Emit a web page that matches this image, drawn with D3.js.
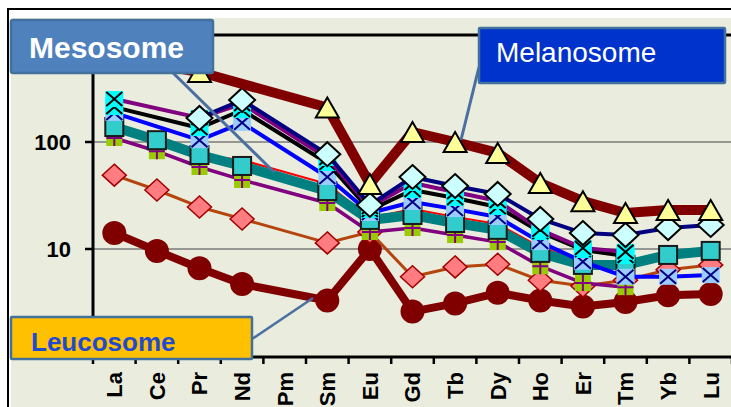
<!DOCTYPE html>
<html>
<head>
<meta charset="utf-8">
<style>
  body { margin: 0; background: #fff; }
  text { font-family: "Liberation Sans", Arial, sans-serif; }
</style>
</head>
<body>
<script src="https://d3js.org/d3.v7.min.js"></script>
<script>
var width = 731, height = 407;

// REE categories (Pm left empty)
var elements = ["La", "Ce", "Pr", "Nd", "Pm", "Sm", "Eu", "Gd", "Tb", "Dy", "Ho", "Er", "Tm", "Yb", "Lu"];
var yTicks = [1, 10, 100, 1000];
var yLabels = [10, 100]; // 1 and 1000 sit under the callout boxes
var gridValues = [10, 100];

// melanosome (triangles)
var melanosome = [620, null, 451, null, null, 210, 40.5, 124, 100, 79, 41.4, 28, 21.7, 23.1, 23.1];
// leucosome samples
var leucoCircle = [14.1, 9.6, 6.6, 4.7, null, 3.3, 10, 2.6, 3.1, 3.9, 3.3, 2.9, 3.2, 3.7, 3.8];
var leucoDiamond = [49, 35.6, 24.7, 19.1, null, 11.4, 14.4, 5.5, 6.8, 7.2, 5.1, 4.5, 5.1, 6.4, 7.1];
// mesosome samples
var mesoPlus = [109, 82, 58.4, 44.2, null, 26.9, 14.4, 15.7, 13.5, 11.6, 6.9, 4.8, 4.4, null, null];
var mesoRed = [138, 104, 75.6, 67.9, null, 40.5, 19.5, 23.6, 19.9, 17.1, 10.4, 7.7, 7.1, 8.8, 9.6];
var mesoTeal = [138, 104, 75.6, 59.7, null, 34.8, 18.7, 20.8, 17.5, 15.1, 9.2, 7.1, 7.1, 8.8, 9.6];
var mesoBlue = [187, null, 104, 151, null, 47.1, 21.7, 27.5, 23.6, 19.9, 11.6, 7.6, 5.5, 5.5, 5.7];
var mesoBlack = [212, null, 135, 199, null, 63.6, 23.1, 35.6, 30, 24.7, 14.4, 9.8, 8.6, null, null];
var mesoPurple = [252, null, 168, 227, null, 70.9, 24.7, 41.4, 34.1, 28.1, 15.1, 10.2, 9.4, null, null];
var mesoDiamond = [null, null, 168, 247, null, 77, 25.8, 47.1, 38.8, 32.7, 19.1, 14.1, 13.5, 15.7, 16.8];

var series = [
    { values: leucoCircle, color: '#800000', w: 8, marker: 'circle' },
    { values: leucoDiamond, color: '#b5450e', w: 3, marker: 'salmon' },
    { values: mesoPlus, color: '#800080', w: 3.5, marker: 'plus' },
    { values: mesoRed, color: '#ff0000', w: 2, marker: null },
    { values: mesoTeal, color: '#008080', w: 10, marker: 'square' },
    { values: mesoBlue, color: '#0000ff', w: 4, marker: 'xblue' },
    { values: mesoBlack, color: '#000000', w: 4, marker: 'xcyan' },
    { values: mesoPurple, color: '#800080', w: 4, marker: 'xcyan' },
    { values: mesoDiamond, color: '#000080', w: 4, marker: 'diamond' },
    { values: melanosome, color: '#800000', w: 10, marker: 'triangle' }
];

var svg = d3.select('body').append('svg').attr('width', width).attr('height', height);

// frame + plot background
svg.append('rect').attr('x', 8).attr('y', 9).attr('width', 740).attr('height', 410)
    .attr('fill', '#fff').attr('stroke', '#000').attr('stroke-width', 2);
svg.append('rect').attr('x', 11).attr('y', 18).attr('width', 730).attr('height', 400)
    .attr('fill', '#eaecde');

var x = d3.scaleBand().domain(elements).range([93, 732]);
var y = d3.scaleLog().domain([1, 1000]).range([356, 35]);
function cx(i) { return x(elements[i]) + x.bandwidth() / 2; }

// gridlines
svg.selectAll('.grid').data(gridValues).join('line').attr('class', 'grid')
    .attr('x1', 93).attr('x2', 731)
    .attr('y1', function (d) { return y(d); }).attr('y2', function (d) { return y(d); })
    .attr('stroke', '#7a7a7a').attr('stroke-width', 1.5);
svg.append('line').attr('x1', 93).attr('x2', 731).attr('y1', y(1000)).attr('y2', y(1000))
    .attr('stroke', '#000').attr('stroke-width', 3);

// y axis
svg.append('line').attr('x1', 93).attr('x2', 93).attr('y1', y(1000) - 1.5).attr('y2', 358)
    .attr('stroke', '#000').attr('stroke-width', 3);
svg.selectAll('.ytick').data(yTicks).join('line').attr('class', 'ytick')
    .attr('x1', 85).attr('x2', 93)
    .attr('y1', function (d) { return y(d); }).attr('y2', function (d) { return y(d); })
    .attr('stroke', '#000').attr('stroke-width', 2.5);
svg.selectAll('.ylab').data(yLabels).join('text').attr('class', 'ylab')
    .attr('x', 71).attr('y', function (d) { return y(d) + 8; })
    .attr('text-anchor', 'end').attr('font-size', 22).attr('font-weight', 'bold').attr('fill', '#000')
    .text(function (d) { return d; });

// x axis
svg.append('line').attr('x1', 60).attr('x2', 731).attr('y1', 357).attr('y2', 357)
    .attr('stroke', '#000').attr('stroke-width', 3);
svg.selectAll('.xtick').data(elements.concat(['end'])).join('line').attr('class', 'xtick')
    .attr('x1', function (d) { return d === 'end' ? 732 : x(d); })
    .attr('x2', function (d) { return d === 'end' ? 732 : x(d); })
    .attr('y1', 357).attr('y2', 364)
    .attr('stroke', '#000').attr('stroke-width', 2.5);
svg.selectAll('.xlab').data(elements).join('text').attr('class', 'xlab')
    .attr('transform', function (d) { return 'translate(' + (x(d) + x.bandwidth() / 2) + ',372) rotate(-90)'; })
    .attr('dy', '0.36em').attr('text-anchor', 'end').attr('font-size', 22).attr('font-weight', 'bold')
    .attr('fill', '#000')
    .text(function (d) { return d; });

// markers
function drawMarker(g, type) {
    if (type === 'circle') {
        g.append('circle').attr('r', 12).attr('fill', '#800000');
    } else if (type === 'salmon') {
        g.append('path').attr('d', 'M0,-11L12,0L0,11L-12,0Z')
            .attr('fill', '#ff7c80').attr('stroke', '#a00000').attr('stroke-width', 1.5);
    } else if (type === 'plus') {
        g.append('rect').attr('x', -8).attr('y', -8).attr('width', 16).attr('height', 16).attr('fill', '#99cc00');
        g.append('path').attr('d', 'M-8,0H8M0,-8V8').attr('stroke', '#800080').attr('stroke-width', 2);
    } else if (type === 'square') {
        g.append('rect').attr('x', -9).attr('y', -9).attr('width', 18).attr('height', 18)
            .attr('fill', '#33cccc').attr('stroke', '#1a1a1a').attr('stroke-width', 2);
    } else if (type === 'xblue') {
        g.append('rect').attr('x', -9).attr('y', -8).attr('width', 18).attr('height', 16).attr('fill', '#99ccff');
        g.append('path').attr('d', 'M-8,-7L8,7M-8,7L8,-7').attr('stroke', '#000080').attr('stroke-width', 2);
    } else if (type === 'xcyan') {
        g.append('rect').attr('x', -9).attr('y', -8).attr('width', 18).attr('height', 16).attr('fill', '#00ffff');
        g.append('path').attr('d', 'M-8,-7L8,7M-8,7L8,-7').attr('stroke', '#000').attr('stroke-width', 2);
    } else if (type === 'diamond') {
        g.append('path').attr('d', 'M0,-12L13,0L0,12L-13,0Z')
            .attr('fill', '#ccffff').attr('stroke', '#000').attr('stroke-width', 2);
    } else if (type === 'triangle') {
        g.append('path').attr('d', 'M0,-10L11.5,10L-11.5,10Z')
            .attr('fill', '#ffff99').attr('stroke', '#000').attr('stroke-width', 2);
    }
}

var line = d3.line()
    .x(function (d) { return cx(d.i); })
    .y(function (d) { return y(d.v); });

series.forEach(function (s) {
    var pts = s.values.map(function (v, i) { return { i: i, v: v }; })
        .filter(function (d) { return d.v != null; });
    var g = svg.append('g');
    g.append('path').datum(pts).attr('d', line)
        .attr('fill', 'none').attr('stroke', s.color).attr('stroke-width', s.w)
        .attr('stroke-linejoin', 'round').attr('stroke-linecap', 'round');
    if (s.marker) {
        g.selectAll('g').data(pts).join('g')
            .attr('transform', function (d) { return 'translate(' + cx(d.i) + ',' + y(d.v) + ')'; })
            .each(function () { drawMarker(d3.select(this), s.marker); });
    }
});

// callouts
var calloutStroke = '#41719c';
svg.append('line').attr('x1', 168).attr('y1', 68).attr('x2', 274).attr('y2', 172)
    .attr('stroke', '#4a6fa0').attr('stroke-width', 3);
svg.append('line').attr('x1', 479).attr('y1', 67).attr('x2', 461).attr('y2', 140)
    .attr('stroke', '#4a6fa0').attr('stroke-width', 3);
svg.append('line').attr('x1', 252).attr('y1', 339).attr('x2', 313).attr('y2', 298)
    .attr('stroke', '#4a6fa0').attr('stroke-width', 2.5);

svg.append('rect').attr('x', 11).attr('y', 20).attr('width', 202).attr('height', 53).attr('rx', 2)
    .attr('fill', '#4f81bd').attr('stroke', calloutStroke).attr('stroke-width', 2.5);
svg.append('text').attr('x', 29).attr('y', 58).attr('font-family', '"Open Sans", sans-serif')
    .attr('font-weight', 'bold').attr('font-size', 30).attr('fill', '#fff').text('Mesosome');

svg.append('rect').attr('x', 479).attr('y', 28).attr('width', 246).attr('height', 55).attr('rx', 1)
    .attr('fill', '#0033cc').attr('stroke', calloutStroke).attr('stroke-width', 2.5);
svg.append('text').attr('x', 496).attr('y', 62).attr('font-family', '"Open Sans", sans-serif')
    .attr('font-size', 28).attr('fill', '#fff').text('Melanosome');

svg.append('rect').attr('x', 11).attr('y', 317).attr('width', 241).attr('height', 42).attr('rx', 1)
    .attr('fill', '#ffc000').attr('stroke', calloutStroke).attr('stroke-width', 2.5);
svg.append('text').attr('x', 31).attr('y', 351).attr('font-family', '"Open Sans", sans-serif')
    .attr('font-weight', 'bold').attr('font-size', 26).attr('fill', '#1f4bd1').text('Leucosome');
</script>
</body>
</html>
